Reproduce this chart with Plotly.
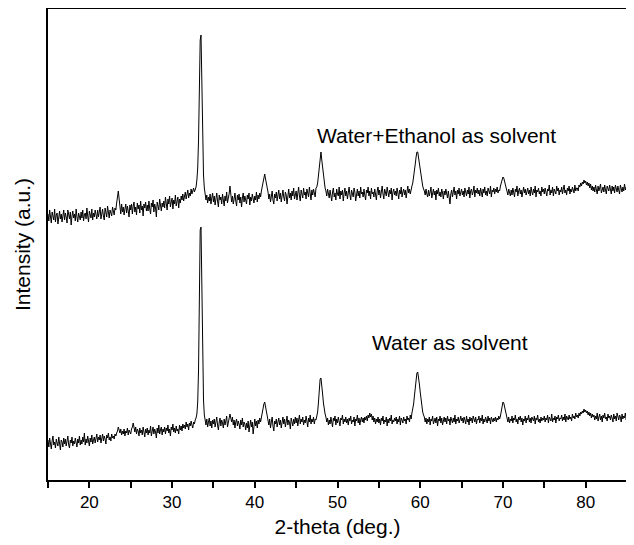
import numpy as np
import plotly.graph_objects as go

# 2-theta grid (deg.), step 0.1 from 15 to 85
two_theta = np.round(np.arange(15.0, 85.0001, 0.1), 1)

# Water+Ethanol as solvent (a.u.), one row per 2 degrees (20 points)
water_ethanol = [
    266, 259, 270, 262, 257, 268, 264, 260, 271, 258, 265, 267, 256, 263, 269, 261, 266, 258, 264, 270,
    260, 267, 263, 257, 270, 265, 261, 268, 255, 264, 269, 262, 266, 259, 271, 263, 258, 267, 264, 260,
    268, 262, 270, 259, 265, 267, 261, 272, 264, 258, 269, 266, 262, 271, 260, 267, 263, 270, 265, 261,
    270, 263, 268, 273, 261, 266, 271, 264, 260, 272, 267, 263, 274, 266, 262, 270, 268, 264, 273, 267,
    265, 272, 270, 277, 284, 289, 281, 274, 266, 276, 268, 273, 265, 271, 276, 267, 274, 269, 263, 275,
    270, 276, 266, 274, 278, 268, 273, 265, 277, 271, 275, 267, 279, 270, 274, 264, 276, 272, 278, 269,
    275, 269, 279, 271, 266, 277, 273, 280, 268, 276, 272, 263, 278, 274, 270, 281, 275, 269, 277, 273,
    279, 272, 283, 274, 270, 281, 276, 284, 273, 278, 282, 271, 280, 276, 285, 274, 279, 283, 272, 281,
    277, 284, 280, 286, 279, 283, 288, 281, 285, 290, 282, 287, 284, 291, 286, 289, 292, 288, 290, 293,
    300, 312, 340, 395, 440, 445, 400, 340, 305, 292, 286, 280, 285, 277, 283, 279, 286, 276, 282, 287,
    278, 284, 275, 282, 287, 279, 273, 285, 280, 283, 276, 286, 281, 274, 284, 279, 288, 277, 282, 286,
    294, 285, 278, 284, 276, 281, 287, 279, 274, 285, 280, 286, 277, 283, 273, 282, 287, 278, 284, 280,
    276, 285, 281, 287, 275, 283, 279, 286, 282, 277, 284, 280, 288, 278, 285, 281, 287, 283, 289, 293,
    297, 303, 306, 301, 297, 290, 288, 281, 286, 278, 284, 289, 280, 276, 286, 282, 288, 279, 285, 290,
    281, 287, 278, 284, 290, 283, 279, 288, 285, 276, 286, 291, 282, 287, 280, 289, 284, 292, 281, 286,
    289, 280, 287, 293, 284, 279, 290, 286, 282, 292, 285, 288, 281, 291, 287, 283, 293, 286, 280, 290,
    285, 291, 287, 283, 292, 293, 297, 305, 318, 327, 328, 320, 311, 302, 297, 292, 289, 284, 291, 286,
    282, 290, 285, 279, 288, 292, 283, 287, 280, 291, 286, 284, 293, 281, 289, 285, 290, 279, 287, 292,
    284, 289, 281, 287, 293, 285, 280, 290, 286, 283, 292, 288, 279, 287, 291, 284, 289, 282, 293, 286,
    288, 283, 291, 285, 280, 290, 287, 293, 284, 289, 281, 292, 286, 288, 283, 291, 287, 280, 289, 293,
    285, 290, 282, 288, 294, 286, 281, 291, 287, 284, 293, 289, 283, 290, 286, 292, 280, 288, 291, 285,
    289, 284, 292, 287, 281, 290, 286, 293, 283, 288, 291, 285, 290, 282, 289, 294, 287, 291, 286, 292,
    294, 297, 302, 308, 316, 323, 328, 328, 322, 316, 310, 303, 298, 294, 291, 289, 285, 291, 286, 283,
    290, 284, 288, 293, 282, 287, 291, 285, 289, 280, 290, 286, 292, 284, 288, 283, 291, 287, 281, 289,
    285, 291, 287, 282, 289, 284, 276, 286, 290, 283, 288, 293, 285, 289, 281, 290, 286, 292, 284, 288,
    291, 285, 289, 283, 292, 288, 284, 290, 286, 293, 282, 289, 291, 285, 288, 294, 283, 290, 287, 292,
    286, 290, 284, 292, 288, 283, 291, 287, 293, 285, 289, 284, 292, 288, 286, 294, 283, 290, 288, 292,
    286, 291, 288, 293, 287, 290, 289, 294, 297, 301, 303, 302, 299, 296, 292, 289, 285, 291, 287, 284,
    290, 285, 292, 287, 283, 291, 288, 294, 284, 289, 292, 286, 290, 283, 288, 293, 287, 291, 285, 289,
    292, 286, 290, 284, 293, 288, 285, 291, 287, 294, 283, 290, 288, 292, 286, 289, 284, 293, 288, 291,
    286, 292, 288, 284, 291, 289, 295, 285, 290, 287, 293, 284, 291, 288, 286, 294, 289, 292, 285, 290,
    288, 293, 286, 291, 295, 287, 290, 285, 292, 289, 294, 286, 291, 288, 293, 290, 287, 295, 289, 292,
    292, 289, 295, 293, 297, 294, 298, 296, 300, 297, 299, 295, 298, 294, 297, 292, 296, 290, 294, 289,
    293, 288, 295, 290, 286, 294, 289, 292, 296, 287, 291, 293, 288, 295, 290, 286, 294, 291, 289, 295,
    290, 286, 294, 289, 293, 287, 295, 291, 288, 294, 290, 286, 295, 292, 288, 293, 289, 296, 290, 293,
    291,
]

# Water as solvent (a.u.), one row per 2 degrees (20 points)
water = [
    40, 33, 42, 36, 31, 39, 44, 35, 38, 32, 41, 37, 34, 43, 36, 30, 40, 38, 33, 42,
    36, 41, 34, 39, 44, 35, 32, 40, 37, 43, 34, 39, 36, 42, 38, 33, 41, 37, 44, 35,
    40, 36, 43, 38, 47, 35, 41, 37, 44, 39, 34, 42, 38, 45, 36, 40, 43, 37, 41, 46,
    38, 43, 40, 45, 37, 42, 46, 39, 44, 41, 36, 45, 42, 47, 40, 43, 39, 46, 42, 44,
    41, 46, 44, 47, 49, 53, 50, 47, 51, 45, 49, 46, 51, 44, 49, 47, 52, 45, 50, 48,
    46, 51, 53, 57, 52, 48, 53, 46, 51, 49, 44, 52, 47, 50, 45, 53, 48, 43, 51, 47,
    52, 45, 50, 47, 54, 44, 49, 53, 46, 51, 48, 42, 52, 47, 55, 46, 50, 53, 45, 51,
    48, 53, 46, 52, 49, 55, 47, 51, 44, 53, 50, 56, 48, 52, 47, 54, 49, 51, 46, 55,
    50, 54, 49, 56, 52, 55, 51, 58, 53, 56, 50, 57, 54, 59, 55, 52, 58, 56, 60, 62,
    66, 78, 110, 190, 250, 253, 190, 120, 80, 65, 60, 55, 61, 53, 58, 62, 54, 59, 52, 60,
    56, 61, 53, 59, 63, 55, 50, 58, 62, 54, 60, 57, 52, 61, 55, 59, 64, 53, 58, 61,
    66, 62, 58, 63, 55, 60, 52, 58, 61, 54, 59, 56, 51, 60, 55, 62, 53, 58, 56, 50,
    57, 52, 59, 48, 55, 60, 53, 58, 46, 56, 61, 54, 59, 52, 60, 56, 62, 58, 63, 67,
    71, 76, 78, 74, 69, 64, 60, 55, 61, 52, 58, 63, 54, 49, 59, 56, 61, 53, 58, 62,
    55, 60, 52, 58, 63, 56, 61, 53, 59, 64, 55, 60, 57, 51, 62, 58, 54, 61, 56, 63,
    57, 62, 54, 60, 65, 56, 61, 58, 63, 55, 60, 57, 64, 59, 53, 62, 58, 65, 56, 61,
    58, 63, 56, 61, 60, 64, 68, 78, 92, 101, 102, 96, 86, 77, 70, 66, 63, 58, 62, 55,
    60, 56, 63, 58, 53, 62, 59, 64, 55, 61, 57, 63, 59, 54, 62, 60, 65, 56, 61, 58,
    63, 57, 61, 55, 62, 59, 64, 56, 60, 58, 63, 54, 61, 59, 65, 57, 62, 55, 60, 63,
    58, 62, 57, 63, 60, 64, 59, 65, 62, 67, 63, 66, 60, 64, 58, 62, 56, 61, 58, 63,
    57, 61, 55, 62, 59, 64, 56, 60, 58, 63, 54, 61, 57, 62, 59, 65, 56, 60, 58, 62,
    59, 63, 56, 61, 58, 64, 55, 62, 60, 57, 63, 59, 61, 56, 64, 60, 62, 58, 65, 61,
    67, 71, 76, 84, 93, 102, 107, 108, 103, 96, 88, 80, 73, 68, 65, 63, 58, 62, 56, 61,
    58, 63, 55, 61, 59, 64, 56, 60, 62, 57, 63, 54, 61, 59, 64, 57, 62, 55, 60, 63,
    58, 62, 56, 64, 59, 61, 55, 63, 60, 57, 62, 58, 65, 56, 61, 59, 63, 57, 60, 64,
    59, 62, 57, 63, 60, 56, 64, 58, 61, 55, 63, 59, 62, 57, 64, 60, 58, 63, 56, 61,
    60, 64, 57, 62, 59, 65, 56, 61, 58, 63, 60, 57, 64, 59, 62, 56, 63, 60, 58, 62,
    59, 63, 58, 62, 60, 64, 61, 64, 69, 75, 78, 77, 73, 68, 65, 62, 58, 63, 57, 61,
    59, 64, 57, 62, 60, 65, 58, 61, 56, 63, 60, 64, 58, 62, 55, 61, 59, 64, 57, 62,
    60, 65, 58, 62, 57, 63, 61, 59, 64, 56, 62, 60, 65, 58, 61, 57, 63, 59, 62, 60,
    64, 58, 62, 60, 65, 57, 63, 61, 59, 66, 58, 62, 60, 64, 57, 63, 61, 65, 59, 62,
    61, 65, 59, 63, 60, 66, 58, 64, 62, 60, 65, 61, 63, 59, 66, 62, 64, 61, 67, 63,
    65, 62, 67, 64, 68, 66, 69, 67, 71, 68, 70, 67, 69, 65, 68, 64, 67, 62, 66, 63,
    65, 60, 64, 61, 67, 59, 63, 66, 60, 64, 58, 65, 62, 67, 61, 63, 59, 66, 62, 64,
    60, 65, 62, 58, 66, 61, 64, 59, 67, 62, 60, 65, 63, 58, 66, 61, 64, 62, 67, 60,
    63,
]

assert len(water_ethanol) == len(two_theta) == len(water)

x_ticks = [15, 20, 25, 30, 35, 40, 45, 50, 55, 60, 65, 70, 75, 80, 85]
x_tick_text = ["", "20", "", "30", "", "40", "", "50", "", "60", "", "70", "", "80", ""]

labels = ["Water+Ethanol as solvent", "Water as solvent"]
label_pos = [(62.0, 345), (63.6, 138)]

FONT = "Liberation Sans, Arial, sans-serif"

fig = go.Figure()
for ys in (water_ethanol, water):
    fig.add_trace(go.Scatter(x=two_theta, y=ys, mode="lines",
                             line=dict(color="black", width=1), showlegend=False,
                             hoverinfo="skip"))

for text, (lx, ly) in zip(labels, label_pos):
    fig.add_annotation(x=lx, y=ly, text=text, showarrow=False,
                       font=dict(family=FONT, size=21, color="black"),
                       xanchor="center", yanchor="middle")

# page body has an 8px default margin, so the figure is sized 626x537
fig.update_layout(
    template="none",
    width=626, height=537,
    margin=dict(l=40, r=7, t=1, b=65, autoexpand=False),
    paper_bgcolor="white", plot_bgcolor="white",
    font=dict(family=FONT, color="black"),
)
fig.update_xaxes(range=[15, 85], showgrid=False, zeroline=False, automargin=False,
                 showline=True, linecolor="black", linewidth=2, mirror=True,
                 ticks="outside", ticklen=6, tickwidth=1.5, tickcolor="black",
                 tickmode="array", tickvals=x_ticks, ticktext=x_tick_text,
                 tickfont=dict(size=17, family=FONT),
                 title=dict(text="2-theta (deg.)", font=dict(size=21, family=FONT), standoff=8))
fig.update_yaxes(range=[0, 471], showgrid=False, zeroline=False, automargin=False,
                 showline=True, linecolor="black", linewidth=2, mirror=True,
                 showticklabels=False, ticks="",
                 title=dict(text="Intensity (a.u.)", font=dict(size=21, family=FONT), standoff=10))

fig.write_html("out.html")
